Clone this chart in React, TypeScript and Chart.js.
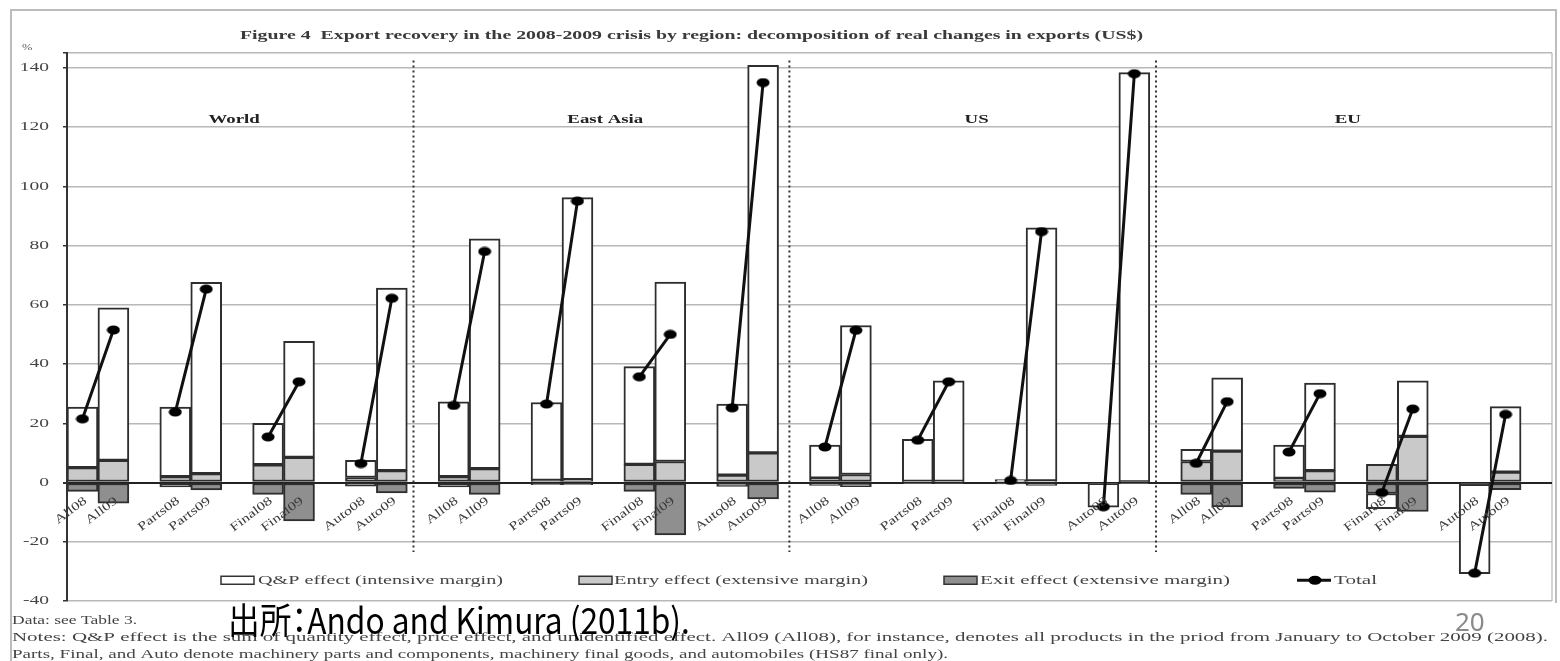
import React, { useEffect, useRef } from 'react';
import { Chart, registerables } from 'chart.js';

Chart.register(...registerables);

// ---------- data ----------
const regions = ['World', 'East Asia', 'US', 'EU'];
const productGroups = ['All', 'Parts', 'Final', 'Auto'];
const periods = ['08', '09'];

// order: region -> group -> (08, 09)
const entryEffect = [
  5, 7.5, 2, 3, 6, 8.5, 1.7, 4,
  2, 4.7, 0.7, 1, 6.1, 7.1, 2.5, 10,
  1.5, 2.7, 0.4, 0.4, 0.5, 0.5, 0, 0.2,
  7.1, 10.6, 1.4, 4, 6.1, 15.6, 0, 3.5,
];
const exitEffect = [
  -3, -7, -1.5, -2.5, -4, -13, -1.2, -3.5,
  -1.5, -4, -0.7, -0.7, -3, -17.7, -1.3, -5.5,
  -1, -1.4, -0.4, -0.3, -0.5, -1, -0.3, -0.2,
  -4, -8.2, -2, -3.3, -3.7, -9.8, -0.6, -2.4,
];
const qpEffect = [
  20.5, 51.5, 23.5, 64.6, 14, 39.2, 5.8, 61.6,
  25.2, 77.6, 26.3, 95.2, 33, 60.6, 24, 130.8,
  11.1, 50.3, 14.2, 33.9, 0.5, 85.5, -8, 138.2,
  4.1, 24.7, 11.2, 29.6, -5.1, 18.7, -30.2, 22.1,
];
const totalChange = [
  21.5, 51.5, 23.8, 65.3, 15.4, 34, 6.4, 62.2,
  26, 78, 26.5, 95, 35.7, 50, 25.2, 135,
  12, 51.4, 14.3, 34, 0.7, 84.7, -8.2, 138,
  6.5, 27.3, 10.3, 30, -3.4, 24.8, -30.6, 23,
];

const yMin = -40;
const yMax = 145;
const yStep = 20;

const legendLabels = [
  'Q&P effect (intensive margin)',
  'Entry effect (extensive margin)',
  'Exit effect (extensive margin)',
  'Total',
];
const titleText =
  'Figure 4  Export recovery in the 2008-2009 crisis by region: decomposition of real changes in exports (US$)';
const noteLines = [
  'Data: see Table 3.',
  'Notes: Q&P effect is the sum of quantity effect, price effect, and unidentified effect. All09 (All08), for instance, denotes all products in the priod from January to October 2009 (2008).',
  'Parts, Final, and Auto denote machinery parts and components, machinery final goods, and automobiles (HS87 final only).',
];
const sourceText = '出所：Ando and Kimura (2011b).';
const pageNumber = '20';

// ---------- slot building (08, 09, gap) ----------
const slotLabels: string[] = [];
regions.forEach(() =>
  productGroups.forEach((g) => {
    periods.forEach((p) => slotLabels.push(g + p));
    slotLabels.push('');
  })
);
const toSlots = (arr: number[]) => {
  const out: (number | null)[] = [];
  for (let i = 0; i < arr.length / 2; i++) out.push(arr[2 * i], arr[2 * i + 1], null);
  return out;
};

const SERIF = '"Liberation Serif", "DejaVu Serif", serif';

function drawText(
  ctx: CanvasRenderingContext2D,
  s: string,
  x: number,
  y: number,
  font: string,
  color: string,
  align: CanvasTextAlign,
  opt: { sx?: number; width?: number; rot?: number } = {}
) {
  ctx.save();
  ctx.font = font;
  ctx.fillStyle = color;
  ctx.textBaseline = 'middle';
  let sx = opt.sx ?? 1;
  if (opt.width) sx = opt.width / ctx.measureText(s).width;
  ctx.translate(x, y);
  if (opt.rot) ctx.rotate(opt.rot);
  ctx.scale(sx, 1);
  ctx.textAlign = align;
  ctx.fillText(s, 0, 0);
  ctx.restore();
}

function makeDot() {
  const c = document.createElement('canvas');
  c.width = 14;
  c.height = 10;
  const g = c.getContext('2d')!;
  g.fillStyle = '#000';
  g.beginPath();
  g.ellipse(7, 5, 6.5, 4.5, 0, 0, Math.PI * 2);
  g.fill();
  return c;
}

const dividerSlots = [11.2, 23.35, 35.2];

const decorPlugin = {
  id: 'decor',
  beforeDraw(chart: any) {
    const ctx: CanvasRenderingContext2D = chart.ctx;
    ctx.save();
    ctx.fillStyle = '#fff';
    ctx.fillRect(0, 0, chart.width, chart.height);
    ctx.strokeStyle = '#bcbcbc';
    ctx.lineWidth = 2;
    ctx.beginPath();
    ctx.moveTo(11, chart.height);
    ctx.lineTo(11, 10);
    ctx.lineTo(1556, 10);
    ctx.lineTo(1556, 603);
    ctx.stroke();
    const a = chart.chartArea;
    ctx.strokeStyle = '#c4c4c4';
    ctx.lineWidth = 1.5;
    ctx.beginPath();
    ctx.moveTo(a.right, a.top);
    ctx.lineTo(a.right, a.bottom);
    ctx.stroke();
    ctx.restore();
  },
  afterDatasetsDraw(chart: any) {
    const ctx: CanvasRenderingContext2D = chart.ctx;
    const a = chart.chartArea;
    const xs = chart.scales.x;
    const ys = chart.scales.y;
    const slotW = (a.right - a.left) / slotLabels.length;
    const zero = ys.getPixelForValue(0);

    // dotted region dividers
    ctx.save();
    ctx.strokeStyle = '#333';
    ctx.lineWidth = 2;
    ctx.setLineDash([2, 3]);
    dividerSlots.forEach((s) => {
      const x = a.left + s * slotW;
      ctx.beginPath();
      ctx.moveTo(x, ys.getPixelForValue(142.5));
      ctx.lineTo(x, ys.getPixelForValue(-23.5));
      ctx.stroke();
    });
    ctx.restore();

    // region titles
    regions.forEach((r, i) => {
      const x = a.left + (i * 12 + 5.4) * slotW;
      drawText(ctx, r, x, ys.getPixelForValue(122.5), 'bold 13px ' + SERIF, '#222', 'center', { sx: 1.45 });
    });

    // category labels next to the zero line
    slotLabels.forEach((lab, i) => {
      if (!lab) return;
      const x = xs.getPixelForValue(i);
      drawText(ctx, lab, x + 3, zero + 17, '12px ' + SERIF, '#3c3c3c', 'right', { sx: 1.35, rot: (-37 * Math.PI) / 180 });
    });

    // legend
    const ly = ys.getPixelForValue(-33);
    const boxes = [
      { x: 221, fill: '#ffffff' },
      { x: 579, fill: '#c9c9c9' },
      { x: 944, fill: '#8f8f8f' },
    ];
    const textX = [258, 614, 980, 1334];
    const textW = [245, 254, 250, 43];
    ctx.save();
    boxes.forEach((b) => {
      ctx.fillStyle = b.fill;
      ctx.strokeStyle = '#333';
      ctx.lineWidth = 1.5;
      ctx.fillRect(b.x, ly - 4, 33, 8);
      ctx.strokeRect(b.x, ly - 4, 33, 8);
    });
    ctx.strokeStyle = '#111';
    ctx.lineWidth = 3;
    ctx.beginPath();
    ctx.moveTo(1297, ly);
    ctx.lineTo(1331, ly);
    ctx.stroke();
    ctx.fillStyle = '#000';
    ctx.beginPath();
    ctx.ellipse(1315, ly, 6.5, 4.5, 0, 0, Math.PI * 2);
    ctx.fill();
    ctx.restore();
    legendLabels.forEach((l, i) => {
      drawText(ctx, l, textX[i], ly, '13px ' + SERIF, '#444', 'left', { width: textW[i] });
    });
  },
  afterDraw(chart: any) {
    const ctx: CanvasRenderingContext2D = chart.ctx;
    const ys = chart.scales.y;
    drawText(ctx, titleText, 240, 36, 'bold 12px ' + SERIF, '#3a3a3a', 'left', { width: 903 });
    drawText(ctx, '%', 22, 48, '9px ' + SERIF, '#555', 'left', { sx: 1.4 });
    ys.ticks.forEach((t: any) => {
      if (t.value > 140) return;
      drawText(ctx, String(t.value), 49, ys.getPixelForValue(t.value), '13px ' + SERIF, '#444', 'right', { sx: 1.5 });
    });
    drawText(ctx, noteLines[0], 12, 621, '13px ' + SERIF, '#444', 'left', { width: 125 });
    drawText(ctx, noteLines[1], 12, 638, '13px ' + SERIF, '#444', 'left', { width: 1536 });
    drawText(ctx, noteLines[2], 12, 655, '13px ' + SERIF, '#444', 'left', { width: 936 });
  },
};

export default function App() {
  const ref = useRef<HTMLCanvasElement>(null);

  useEffect(() => {
    document.body.style.margin = '0';
    const dot = makeDot();
    const barCommon = {
      type: 'bar' as const,
      stack: 'effects',
      borderColor: '#2e2e2e',
      borderWidth: 2,
      borderSkipped: false,
      barPercentage: 1,
      categoryPercentage: 1,
      order: 2,
    };
    const chart = new Chart(ref.current!, {
      type: 'bar',
      data: {
        labels: slotLabels,
        datasets: [
          { ...barCommon, label: legendLabels[1], data: toSlots(entryEffect), backgroundColor: '#c9c9c9' },
          { ...barCommon, label: legendLabels[2], data: toSlots(exitEffect), backgroundColor: '#8f8f8f' },
          { ...barCommon, label: legendLabels[0], data: toSlots(qpEffect), backgroundColor: '#ffffff' },
          {
            type: 'line',
            label: legendLabels[3],
            data: toSlots(totalChange),
            stack: 'total',
            order: 0,
            borderColor: '#111',
            borderWidth: 3,
            pointStyle: dot as any,
            pointRadius: 5,
            spanGaps: false,
          } as any,
        ],
      },
      options: {
        responsive: false,
        animation: false,
        layout: { padding: { left: 0, top: 53, right: 8, bottom: 60 } },
        plugins: { legend: { display: false }, tooltip: { enabled: false }, title: { display: false } },
        scales: {
          x: { display: false, stacked: true, offset: true },
          y: {
            stacked: true,
            min: yMin,
            max: yMax,
            ticks: { stepSize: yStep, display: false },
            border: { display: true, color: '#333', width: 2 },
            grid: {
              color: (c: any) => (c.tick && c.tick.value === 0 ? '#222' : '#b8b8b8'),
              lineWidth: (c: any) => (c.tick && c.tick.value === 0 ? 2 : 1.5),
              drawTicks: true,
              tickLength: 4,
              tickColor: '#333',
            },
            afterFit: (s: any) => {
              s.width = 67;
            },
          },
        },
      },
      plugins: [decorPlugin],
    });
    return () => chart.destroy();
  }, []);

  return (
    <div style={{ position: 'relative', width: 1560, height: 661, background: '#fff', overflow: 'hidden' }}>
      <canvas ref={ref} width={1560} height={661} style={{ display: 'block' }} />
      <div
        style={{
          position: 'absolute',
          left: 228,
          top: 595,
          fontFamily: '"Noto Sans CJK JP", "Noto Sans", sans-serif',
          fontSize: 36,
          lineHeight: '46px',
          color: '#000',
          whiteSpace: 'nowrap',
          fontFeatureSettings: '"palt"',
          transform: 'scaleX(0.88)',
          transformOrigin: 'left center',
        }}
      >
        {sourceText}
      </div>
      <div
        style={{
          position: 'absolute',
          left: 1455,
          top: 604,
          fontFamily: '"Noto Sans", sans-serif',
          fontSize: 26,
          lineHeight: '34px',
          color: '#8a8a8a',
        }}
      >
        {pageNumber}
      </div>
    </div>
  );
}
